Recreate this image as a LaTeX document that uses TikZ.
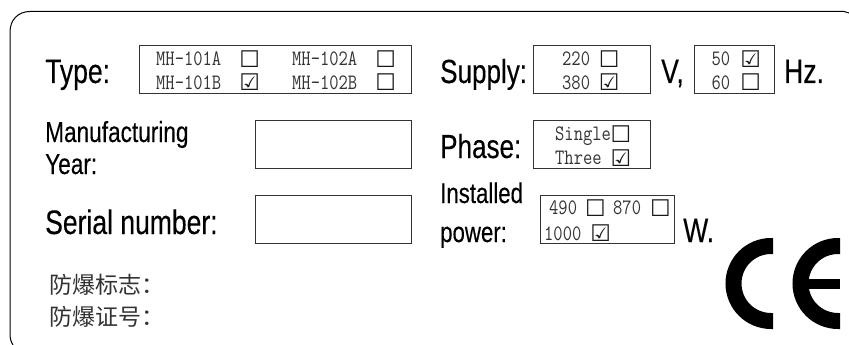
\documentclass[tikz,border=0pt]{standalone}
\usepackage{fontspec}
\setmainfont{Liberation Sans}[FakeStretch=0.78,FakeBold=0.25]
\newfontfamily\optionfont{Latin Modern Mono}[FakeStretch=0.82]
\newfontfamily\cjkfont{Noto Sans CJK SC}
\newfontfamily\tickfont{DejaVu Sans}
\usetikzlibrary{
	positioning,						% Relative positioning
	calc								% Calculate point coordinates
}
\newcommand{\emptytick}{\symbol{"2610}}
\newcommand{\fulltick}{\symbol{"2611}}

\begin{document}
\begin{tikzpicture}
		[
		,x=1pt
		,y=-1pt
		,node distance = 0pt
		,field_box/.style = {
			,draw=black!80
			,inner sep=0pt
			,line width=0.8pt}
		,big_label/.style = {
			,anchor=base west
			,inner sep=0pt
			,font=\fontsize{34}{34}\selectfont}
		,mid_label/.style = {
			,anchor=base west
			,inner sep=0pt
			,font=\fontsize{29}{29}\selectfont}
		,option_text/.style = {
			,anchor=base west
			,inner sep=0pt
			,text=black!80
			,font=\optionfont\fontsize{22}{22}\selectfont}
		,tick_box/.style = {
			,inner sep=0pt
			,text=black!90
			,font=\tickfont\fontsize{23}{23}\selectfont}
		,note_text/.style = {
			,anchor=base west
			,inner sep=0pt
			,text=black!80
			,font=\cjkfont\fontsize{23}{23}\selectfont}
		,ce_stroke/.style = {
			,line width=16pt}
		]
		\useasboundingbox (0,0) rectangle (849,345);

		% Outer border
		\draw [line width=1pt] (13,345) .. controls (10.5,341) and (10,338) .. (10,333) -- (10,32) .. controls (10,20) and (18,11.5) .. (30,11.5) -- (844,11.5) -- (849,13);

		% Type
		\node [big_label] (type) at (45,83) {Type:};
		\node [field_box, minimum width=272pt, minimum height=47.5pt] (typebox) at (275,69.25) {};
		\node [option_text] (mh101a) at (156,65.5) {MH-101A};
		\node [option_text] (mh101b) at (156,89) {MH-101B};
		\node [option_text] (mh102a) at (292,65.5) {MH-102A};
		\node [option_text] (mh102b) at (292,89) {MH-102B};
		\node [tick_box, right=17.7pt of mh101a] (tick101a) {\emptytick};
		\node [tick_box, right=17.7pt of mh101b] (tick101b) {\fulltick};
		\node [tick_box, right=17.7pt of mh102a] (tick102a) {\emptytick};
		\node [tick_box, right=17.7pt of mh102b] (tick102b) {\emptytick};

		% Supply
		\node [big_label, font=\fontsize{33.4}{33.4}\selectfont] (supply) at (440,83) {Supply:};
		\node [field_box, minimum width=116.5pt, minimum height=47.5pt] (voltbox) at (591.75,69.25) {};
		\node [option_text] (v220) at (562,65.5) {220};
		\node [option_text] (v380) at (562,89) {380};
		\node [tick_box, right=8.4pt of v220] (tick220) {\emptytick};
		\node [tick_box, right=8.4pt of v380] (tick380) {\fulltick};
		\node [big_label] (volt) at (661,83) {V,};
		\node [field_box, minimum width=80pt, minimum height=47.5pt] (freqbox) at (734,69.25) {};
		\node [option_text] (f50) at (711.5,65.5) {50};
		\node [option_text] (f60) at (711.5,89) {60};
		\node [tick_box, right=9.7pt of f50] (tick50) {\fulltick};
		\node [tick_box, right=9.7pt of f60] (tick60) {\emptytick};
		\node [big_label] (hertz) at (784,83) {Hz.};

		% Manufacturing year
		\node [mid_label] (manuf) at (45,142) {Manufacturing};
		\node [mid_label] (year) at (45,174) {Year:};
		\node [field_box, minimum width=156pt, minimum height=47.5pt] (yearbox) at (333,144.25) {};

		% Phase
		\node [big_label, font=\fontsize{33.4}{33.4}\selectfont] (phase) at (440,158) {Phase:};
		\node [field_box, minimum width=116.5pt, minimum height=47.5pt] (phasebox) at (591.75,144.25) {};
		\node [option_text] (single) at (555,140) {Single};
		\node [option_text] (three) at (555,164.5) {Three};
		\node [tick_box] (ticksingle) at (621,134) {\emptytick};
		\node [tick_box] (tickthree) at (621,158) {\fulltick};

		% Serial number
		\node [big_label] (serial) at (45,234) {Serial number:};
		\node [field_box, minimum width=156pt, minimum height=47.5pt] (serialbox) at (333,219.25) {};

		% Installed power
		\node [mid_label, font=\fontsize{28.5}{28.5}\selectfont] (installed) at (440,203) {Installed};
		\node [mid_label, font=\fontsize{28.5}{28.5}\selectfont] (power) at (440,242) {power:};
		\node [field_box, minimum width=134pt, minimum height=47.5pt] (powerbox) at (607,219.25) {};
		\node [option_text] (p490) at (549,214.5) {490};
		\node [option_text] (p870) at (613,214.5) {870};
		\node [option_text] (p1000) at (544,240) {1000};
		\node [tick_box, right=7.7pt of p490] (tick490) {\emptytick};
		\node [tick_box, right=8.7pt of p870] (tick870) {\emptytick};
		\node [tick_box, right=8.7pt of p1000] (tick1000) {\fulltick};
		\node [big_label] (watt) at (683,242) {W.};

		% Chinese notes
		\node [note_text] (mark) at (49,293) {防爆标志：};
		\node [note_text] (cert) at (49,325) {防爆证号：};

		% CE mark
		\draw [ce_stroke] (773,246) -- (771,246) arc (-90:-270:37.5) -- (773,321);
		\draw [ce_stroke] (840,246) -- (838,246) arc (-90:-270:37.5) -- (840,321);
		\draw [line width=10pt] (808,283.5) -- (840,283.5);
	\end{tikzpicture}
\end{document}
